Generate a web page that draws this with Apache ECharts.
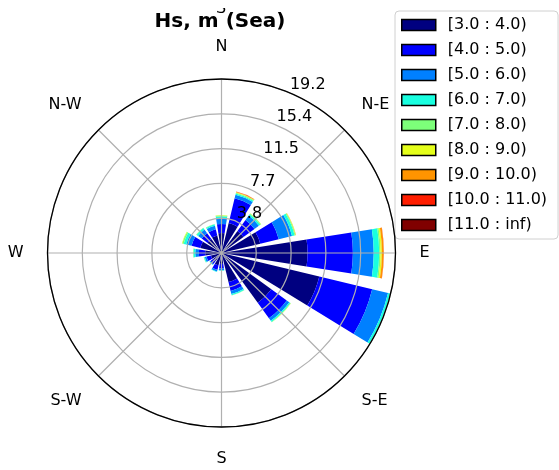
<!DOCTYPE html>
<html><head><meta charset="utf-8">
<script src="https://cdn.jsdelivr.net/npm/echarts@6/dist/echarts.min.js"></script>
<style>html,body{margin:0;padding:0;background:#fff}#c{width:559px;height:470px}</style>
</head><body><div id="c"></div>
<script>
const directions = ['N','NNE','NE','ENE','E','ESE','SE','SSE','S','SSW','SW','WSW','W','WNW','NW','NNW'];
const compassLabels = ['N','N-E','E','S-E','S','S-W','W','N-W'];
const radialTicks = [3.8, 7.7, 11.5, 15.4, 19.2];
const binNames = ['[3.0 : 4.0)','[4.0 : 5.0)','[5.0 : 6.0)','[6.0 : 7.0)','[7.0 : 8.0)','[8.0 : 9.0)','[9.0 : 10.0)','[10.0 : 11.0)','[11.0 : inf)'];
const binColors = ['#000080','#0000ff','#0080ff','#19ffe0','#7dff7a','#e5ff1a','#ff9400','#ff1e00','#800000'];

const hs_3_4   = [2.2, 3.4, 3.0, 4.4, 9.5, 11.1, 6.8, 3.3, 1.2, 1.4, 1.1, 1.2, 1.8, 2.4, 1.9, 2.0];
const hs_4_5   = [1.0, 2.8, 1.5, 2.1, 5.0, 6.0, 2.1, 1.0, 0.5, 0.5, 0.4, 0.5, 0.7, 1.0, 0.8, 0.7];
const hs_5_6   = [0.6, 0.4, 0.6, 1.5, 2.3, 1.8, 0.35, 0.35, 0.2, 0.2, 0.1, 0.2, 0.4, 0.6, 0.5, 0.4];
const hs_6_7   = [0.25, 0.15, 0.2, 0.3, 0.6, 0.25, 0.15, 0.15, 0.05, 0.05, 0.05, 0.1, 0.2, 0.3, 0.2, 0.15];
const hs_7_8   = [0.1, 0.1, 0.1, 0.1, 0.15, 0.05, 0.05, 0.02, 0, 0, 0, 0.03, 0.05, 0.15, 0.05, 0.05];
const hs_8_9   = [0.03, 0.05, 0.02, 0.04, 0.15, 0.02, 0.01, 0, 0, 0, 0, 0, 0, 0.05, 0, 0];
const hs_9_10  = [0.02, 0.05, 0, 0.02, 0.2, 0, 0, 0, 0, 0, 0, 0, 0, 0, 0, 0];
const hs_10_11 = [0, 0.02, 0, 0, 0.02, 0, 0, 0, 0, 0, 0, 0, 0, 0, 0, 0];
const hs_11_inf= [0, 0, 0, 0, 0, 0, 0, 0, 0, 0, 0, 0, 0, 0, 0, 0];
const binValues = [hs_3_4, hs_4_5, hs_5_6, hs_6_7, hs_7_8, hs_8_9, hs_9_10, hs_10_11, hs_11_inf];

const rMax = 19.2;
const rStep = rMax / 5;
const FONT = '"DejaVu Sans", sans-serif';

const chart = echarts.init(document.getElementById('c'), null, {renderer: 'canvas'});
const center = [221.5, 253], radius = 174;

const series = binNames.map((name, i) => ({
  type: 'bar', coordinateSystem: 'polar', polarIndex: 0, stack: 'hs',
  name: name, data: binValues[i], barCategoryGap: '20%',
  itemStyle: {color: binColors[i]}, z: 2, silent: true, animation: false
}));

chart.setOption({
  animation: false,
  backgroundColor: '#fff',
  polar: [
    {center: center, radius: radius},
    {center: center, radius: radius},
    {center: center, radius: radius}
  ],
  angleAxis: [
    {polarIndex: 0, type: 'category', data: directions, startAngle: 90 + 360 / 32, clockwise: true,
     axisLine: {show: false}, axisTick: {show: false}, axisLabel: {show: false}, splitLine: {show: false}},
    {polarIndex: 1, type: 'value', min: 0, max: 360, interval: 45, startAngle: 90, clockwise: true, z: 12,
     axisLine: {lineStyle: {color: '#000', width: 1.3}}, axisTick: {show: false},
     axisLabel: {margin: 24, fontSize: 16, fontFamily: FONT, color: '#000',
       formatter: v => compassLabels[Math.round(v / 45)] || ''},
     splitLine: {lineStyle: {color: '#b0b0b0', width: 1.2}}},
    {polarIndex: 2, type: 'value', min: 0, max: 360, startAngle: 67.5, clockwise: true,
     axisLine: {show: false}, axisTick: {show: false}, axisLabel: {show: false}, splitLine: {show: false}}
  ],
  radiusAxis: [
    {polarIndex: 0, type: 'value', min: 0, max: rMax, axisLine: {show: false}, axisTick: {show: false},
     axisLabel: {show: false}, splitLine: {show: false}},
    {polarIndex: 1, type: 'value', min: 0, max: rMax, interval: rStep, z: 10,
     axisLine: {show: false}, axisTick: {show: false}, axisLabel: {show: false},
     splitLine: {lineStyle: {color: '#b0b0b0', width: 1.2}}},
    {polarIndex: 2, type: 'value', min: 0, max: rMax, interval: rStep, z: 13,
     axisLine: {show: false}, axisTick: {show: false}, splitLine: {show: false},
     axisLabel: {margin: -2, align: 'left', verticalAlign: 'bottom', fontSize: 16, fontFamily: FONT, color: '#000',
       showMaxLabel: true, showMinLabel: false,
       formatter: v => { const k = Math.round(v / rStep); return k > 0 ? String(radialTicks[k - 1]) : ''; }}}
  ],
  legend: {
    data: binNames, orient: 'vertical', left: 395, top: 11,
    icon: 'rect', itemWidth: 34, itemHeight: 11, itemGap: 9,
    itemStyle: {borderColor: '#000', borderWidth: 1.5},
    textStyle: {fontSize: 16, fontFamily: FONT, color: '#000', lineHeight: 16, padding: [0, 0, 0, 7]},
    borderColor: '#d0d0d0', borderWidth: 1, borderRadius: 4, padding: [6, 11, 6, 6],
    selectedMode: false
  },
  graphic: [
    {type: 'text', x: 221, y: 17, z: 20,
     style: {text: 'S', font: '16px ' + FONT, fill: '#000', align: 'center', verticalAlign: 'bottom',
             textAlign: 'center', textVerticalAlign: 'bottom'}},
    {type: 'rect', z: 21, shape: {x: 210, y: -5, width: 22, height: 13}, style: {fill: '#fff'}},
    {type: 'text', x: 220, y: 12, z: 22,
     style: {text: 'Hs, m (Sea)', font: 'bold 20px ' + FONT, fill: '#000', align: 'center', verticalAlign: 'top',
             textAlign: 'center', textVerticalAlign: 'top'}}
  ],
  series: series
});
</script></body></html>
